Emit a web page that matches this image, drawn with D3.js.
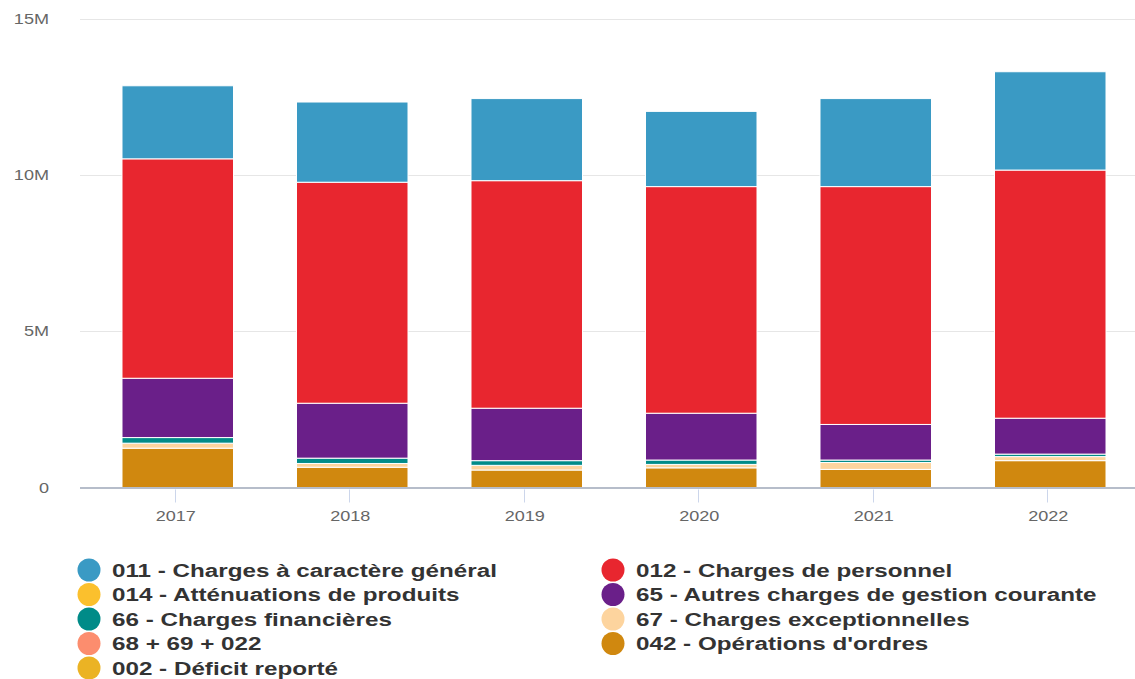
<!DOCTYPE html>
<html>
<head>
<meta charset="utf-8">
<script src="https://cdn.jsdelivr.net/npm/d3@7"></script>
<style>
  html, body { margin: 0; padding: 0; background: #fff; }
  svg { display: block; }
</style>
</head>
<body>
<svg id="chart" width="1135" height="679"></svg>
<script>
// Budget de fonctionnement — dépenses par chapitre (en euros)
const years = ["2017", "2018", "2019", "2020", "2021", "2022"];

const seriesNames = [
  "011 - Charges à caractère général",
  "012 - Charges de personnel",
  "014 - Atténuations de produits",
  "65 - Autres charges de gestion courante",
  "66 - Charges financières",
  "67 - Charges exceptionnelles",
  "68 + 69 + 022",
  "042 - Opérations d'ordres",
  "002 - Déficit reporté"
];
const seriesColors = [
  "#3a9ac4", "#e8262f", "#fbc02d", "#6a1f89", "#008b88",
  "#fdd49e", "#fc8d6e", "#d0880f", "#ebb324"
];

const v011 = [2340000, 2570000, 2630000, 2410000, 2820000, 3150000];
const v012 = [7030000, 7080000, 7290000, 7260000, 7620000, 7950000];
const v014 = [0, 0, 0, 0, 0, 0];
const v65  = [1900000, 1760000, 1680000, 1500000, 1140000, 1150000];
const v66  = [180000, 170000, 150000, 140000, 80000, 80000];
const v67  = [160000, 120000, 150000, 110000, 220000, 130000];
const v68  = [0, 0, 0, 0, 0, 0];
const v042 = [1260000, 650000, 560000, 630000, 580000, 860000];
const v002 = [0, 0, 0, 0, 0, 0];

const seriesValues = [v011, v012, v014, v65, v66, v67, v68, v042, v002];

const yTicks = [0, 5000000, 10000000, 15000000];
const yTickLabels = ["0", "5M", "10M", "15M"];

// ---- layout ----
const svg = d3.select("#chart");
const plotLeft = 80, plotRight = 1135;
const x = d3.scaleBand().domain(years).range([90.5, 1137.5])
  .paddingInner(0.361).paddingOuter(0.1805);
const y = d3.scaleLinear().domain([0, 15000000]).range([487.5, 19.3]);

// horizontal stretch applied to all text
function stretch(sel, k) {
  sel.each(function () {
    const w = this.getComputedTextLength();
    d3.select(this).attr("textLength", w * k).attr("lengthAdjust", "spacingAndGlyphs");
  });
}

// gridlines
svg.append("g").selectAll("line").data(yTicks.filter(d => d > 0)).join("line")
  .attr("x1", plotLeft).attr("x2", plotRight)
  .attr("y1", d => Math.round(y(d)) + 0.5).attr("y2", d => Math.round(y(d)) + 0.5)
  .attr("stroke", "#e6e6e6").attr("stroke-width", 1);

// y labels
const yl = svg.append("g").selectAll("text").data(yTicks).join("text")
  .attr("x", 49).attr("y", d => y(d) + 5)
  .attr("text-anchor", "end")
  .attr("font-family", "Liberation Sans, Arial, sans-serif")
  .attr("font-size", 14).attr("fill", "#666")
  .text((d, i) => yTickLabels[i]);
stretch(yl, 1.29);

// stacked data: first series on top, so stack in reverse order
const rows = years.map((yr, i) => {
  const r = { year: yr };
  seriesNames.forEach((s, j) => r[s] = seriesValues[j][i]);
  return r;
});
const stackKeys = seriesNames.slice().reverse();
const stacked = d3.stack().keys(stackKeys)(rows);

const gBars = svg.append("g");
stacked.forEach(layer => {
  const color = seriesColors[seriesNames.indexOf(layer.key)];
  gBars.append("g").selectAll("rect").data(layer.filter(d => d[1] - d[0] > 0)).join("rect")
    .attr("x", d => x(d.data.year))
    .attr("width", x.bandwidth())
    .attr("y", d => y(d[1]))
    .attr("height", d => y(d[0]) - y(d[1]))
    .attr("fill", color)
    .attr("stroke", "#fff").attr("stroke-width", 1);
});

// x axis line
svg.append("line")
  .attr("x1", plotLeft).attr("x2", plotRight)
  .attr("y1", y(0) + 0.5).attr("y2", y(0) + 0.5)
  .attr("stroke", "#b6bdca").attr("stroke-width", 2);

// x ticks and labels
svg.append("g").selectAll("line").data(years).join("line")
  .attr("x1", d => Math.round(x(d) + x.bandwidth() / 2) - 2.5)
  .attr("x2", d => Math.round(x(d) + x.bandwidth() / 2) - 2.5)
  .attr("y1", y(0) + 2).attr("y2", y(0) + 15)
  .attr("stroke", "#ccd6eb").attr("stroke-width", 1);

const xl = svg.append("g").selectAll("text").data(years).join("text")
  .attr("x", d => x(d) + x.bandwidth() / 2 - 2)
  .attr("y", 521)
  .attr("text-anchor", "middle")
  .attr("font-family", "Liberation Sans, Arial, sans-serif")
  .attr("font-size", 14).attr("fill", "#666")
  .text(d => d);
stretch(xl, 1.29);

// legend: two columns, row-major order
const colX = [89, 613];
const rowY0 = 570, rowStep = 24.5;
const legend = svg.append("g").selectAll("g").data(seriesNames).join("g")
  .attr("transform", (d, i) => `translate(${colX[i % 2]},${rowY0 + Math.floor(i / 2) * rowStep})`);
legend.append("circle")
  .attr("r", 11.5)
  .attr("fill", (d, i) => seriesColors[i]);
const lt = legend.append("text")
  .attr("x", 23).attr("y", 6.5)
  .attr("font-family", "Liberation Sans, Arial, sans-serif")
  .attr("font-weight", "bold")
  .attr("font-size", 18).attr("fill", "#333")
  .text(d => d);
stretch(lt, 1.345);
</script>
</body>
</html>
